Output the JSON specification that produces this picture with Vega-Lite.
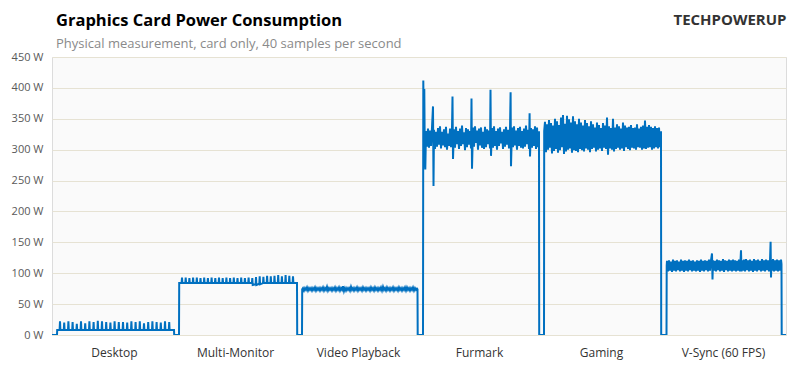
{
"$schema":"https://vega.github.io/schema/vega-lite/v6.json",
"width":734,"height":278,
"autosize":"none",
"padding":{"left":52,"top":57,"right":14,"bottom":33},
"background":"white",
"title":{"text":"Graphics Card Power Consumption","subtitle":"Physical measurement, card only, 40 samples per second","anchor":"start","frame":"group","dx":4,"offset":-39,"font":"Open Sans","fontSize":16.5,"fontWeight":"bold","color":"#000000","subtitleFont":"Open Sans","subtitleFontSize":13,"subtitleColor":"#8a8a8a","subtitlePadding":9},
"config":{"view":{"fill":"#fafafa","stroke":"#dcdcdc"}},
"data":{"values":[
{"t":0,"w":0},{"t":5,"w":0},{"t":5.2,"w":8},
{"t":7.6,"w":8},{"t":8,"w":22},{"t":8.4,"w":8},
{"t":11.8,"w":8},{"t":12.2,"w":20},{"t":12.6,"w":8},
{"t":16,"w":8},{"t":16.4,"w":22},{"t":16.8,"w":8},
{"t":20.2,"w":8},{"t":20.6,"w":21},{"t":21,"w":8},
{"t":24.4,"w":8},{"t":24.8,"w":18},{"t":25.2,"w":8},
{"t":28.6,"w":8},{"t":29,"w":22},{"t":29.4,"w":8},
{"t":32.8,"w":8},{"t":33.2,"w":19},{"t":33.6,"w":8},
{"t":37,"w":8},{"t":37.4,"w":22},{"t":37.8,"w":8},
{"t":41.2,"w":8},{"t":41.6,"w":21},{"t":42,"w":8},
{"t":45.4,"w":8},{"t":45.8,"w":23},{"t":46.2,"w":8},
{"t":49.6,"w":8},{"t":50,"w":22},{"t":50.4,"w":8},
{"t":53.8,"w":8},{"t":54.2,"w":21},{"t":54.6,"w":8},
{"t":58,"w":8},{"t":58.4,"w":20},{"t":58.8,"w":8},
{"t":62.2,"w":8},{"t":62.6,"w":22},{"t":63,"w":8},
{"t":66.4,"w":8},{"t":66.8,"w":21},{"t":67.2,"w":8},
{"t":70.6,"w":8},{"t":71,"w":21},{"t":71.4,"w":8},
{"t":74.8,"w":8},{"t":75.2,"w":20},{"t":75.6,"w":8},
{"t":79,"w":8},{"t":79.4,"w":22},{"t":79.8,"w":8},
{"t":83.2,"w":8},{"t":83.6,"w":21},{"t":84,"w":8},
{"t":87.4,"w":8},{"t":87.8,"w":22},{"t":88.2,"w":8},
{"t":91.6,"w":8},{"t":92,"w":19},{"t":92.4,"w":8},
{"t":95.8,"w":8},{"t":96.2,"w":21},{"t":96.6,"w":8},
{"t":100,"w":8},{"t":100.4,"w":22},{"t":100.8,"w":8},
{"t":104.2,"w":8},{"t":104.6,"w":21},{"t":105,"w":8},
{"t":108.4,"w":8},{"t":108.8,"w":20},{"t":109.2,"w":8},
{"t":112.6,"w":8},{"t":113,"w":22},{"t":113.4,"w":8},
{"t":116.8,"w":8},{"t":117.2,"w":21},{"t":117.6,"w":8},
{"t":122,"w":8},{"t":122.2,"w":0},{"t":127,"w":0},{"t":127.2,"w":84},
{"t":129.6,"w":84},{"t":130,"w":93},{"t":130.4,"w":84},
{"t":133.3,"w":84},{"t":133.7,"w":93},{"t":134.1,"w":84},
{"t":137,"w":84},{"t":137.4,"w":92},{"t":137.8,"w":84},
{"t":140.7,"w":84},{"t":141.1,"w":93},{"t":141.5,"w":84},
{"t":144.4,"w":84},{"t":144.8,"w":93},{"t":145.2,"w":84},
{"t":148.1,"w":84},{"t":148.5,"w":92},{"t":148.9,"w":84},
{"t":151.8,"w":84},{"t":152.2,"w":93},{"t":152.6,"w":84},
{"t":155.5,"w":84},{"t":155.9,"w":92},{"t":156.3,"w":84},
{"t":159.2,"w":84},{"t":159.6,"w":93},{"t":160,"w":84},
{"t":162.9,"w":84},{"t":163.3,"w":92},{"t":163.7,"w":84},
{"t":166.6,"w":84},{"t":167,"w":93},{"t":167.4,"w":84},
{"t":170.3,"w":84},{"t":170.7,"w":92},{"t":171.1,"w":84},
{"t":174,"w":84},{"t":174.4,"w":93},{"t":174.8,"w":84},
{"t":177.7,"w":84},{"t":178.1,"w":92},{"t":178.5,"w":84},
{"t":181.4,"w":84},{"t":181.8,"w":93},{"t":182.2,"w":84},
{"t":185.1,"w":84},{"t":185.5,"w":92},{"t":185.9,"w":84},
{"t":188.8,"w":84},{"t":189.2,"w":93},{"t":189.6,"w":84},
{"t":192.5,"w":84},{"t":192.9,"w":92},{"t":193.3,"w":84},
{"t":196.2,"w":84},{"t":196.6,"w":93},{"t":197,"w":84},
{"t":199.9,"w":84},{"t":200.3,"w":92},{"t":200.7,"w":81},
{"t":203.6,"w":82},{"t":204,"w":94},{"t":204.4,"w":81},
{"t":207.3,"w":83},{"t":207.7,"w":95},{"t":208.1,"w":82},
{"t":211,"w":84},{"t":211.4,"w":94},{"t":211.8,"w":84},
{"t":214.7,"w":84},{"t":215.1,"w":96},{"t":215.5,"w":84},
{"t":218.4,"w":84},{"t":218.8,"w":95},{"t":219.2,"w":84},
{"t":222.1,"w":84},{"t":222.5,"w":96},{"t":222.9,"w":84},
{"t":225.8,"w":84},{"t":226.2,"w":97},{"t":226.6,"w":84},
{"t":229.5,"w":84},{"t":229.9,"w":95},{"t":230.3,"w":84},
{"t":233.2,"w":84},{"t":233.6,"w":97},{"t":234,"w":84},
{"t":236.9,"w":84},{"t":237.3,"w":96},{"t":237.7,"w":84},
{"t":240.6,"w":84},{"t":241,"w":95},{"t":241.4,"w":84},
{"t":245,"w":84},{"t":245.2,"w":0},{"t":250,"w":0},{"t":250.2,"w":74},
{"t":251,"w":76},{"t":252,"w":72},{"t":253,"w":76},{"t":254,"w":73},{"t":255,"w":77},{"t":256,"w":72},{"t":257,"w":76},{"t":258,"w":73},{"t":259,"w":76},{"t":260,"w":72},
{"t":261,"w":76},{"t":262,"w":73},{"t":263,"w":77},{"t":264,"w":72},{"t":265,"w":76},{"t":266,"w":73},{"t":267,"w":76},{"t":268,"w":72},{"t":269,"w":76},{"t":270,"w":73},
{"t":271,"w":77},{"t":272,"w":72},{"t":273,"w":76},{"t":274,"w":73},{"t":275,"w":78},{"t":276,"w":72},{"t":277,"w":76},{"t":278,"w":73},{"t":279,"w":76},{"t":280,"w":72},
{"t":281,"w":76},{"t":282,"w":73},{"t":283,"w":77},{"t":284,"w":72},{"t":285,"w":76},{"t":286,"w":73},{"t":287,"w":77},{"t":288,"w":72},{"t":289,"w":76},{"t":290,"w":73},
{"t":291,"w":79},{"t":292,"w":71},{"t":293,"w":76},{"t":294,"w":72},{"t":295,"w":76},{"t":296,"w":73},{"t":297,"w":76},{"t":298,"w":72},{"t":299,"w":78},{"t":300,"w":73},
{"t":301,"w":76},{"t":302,"w":72},{"t":303,"w":76},{"t":304,"w":73},{"t":305,"w":77},{"t":306,"w":72},{"t":307,"w":76},{"t":308,"w":73},{"t":309,"w":76},{"t":310,"w":72},
{"t":311,"w":77},{"t":312,"w":73},{"t":313,"w":76},{"t":314,"w":72},{"t":315,"w":76},{"t":316,"w":73},{"t":317,"w":76},{"t":318,"w":72},{"t":319,"w":77},{"t":320,"w":73},
{"t":321,"w":76},{"t":322,"w":72},{"t":323,"w":77},{"t":324,"w":73},{"t":325,"w":76},{"t":326,"w":72},{"t":327,"w":76},{"t":328,"w":73},{"t":329,"w":77},{"t":330,"w":72},
{"t":331,"w":78},{"t":332,"w":73},{"t":333,"w":76},{"t":334,"w":72},{"t":335,"w":77},{"t":336,"w":73},{"t":337,"w":76},{"t":338,"w":72},{"t":339,"w":76},{"t":340,"w":73},
{"t":341,"w":77},{"t":342,"w":72},{"t":343,"w":76},{"t":344,"w":73},{"t":345,"w":76},{"t":346,"w":72},{"t":347,"w":77},{"t":348,"w":73},{"t":349,"w":76},{"t":350,"w":72},
{"t":351,"w":76},{"t":352,"w":73},{"t":353,"w":77},{"t":354,"w":72},{"t":355,"w":77},{"t":356,"w":73},{"t":357,"w":76},{"t":358,"w":72},{"t":359,"w":76},{"t":360,"w":73},
{"t":361,"w":77},{"t":362,"w":72},{"t":363,"w":76},{"t":364,"w":73},{"t":365,"w":75},{"t":365.5,"w":74},{"t":365.7,"w":0},{"t":371,"w":0},
{"t":371.3,"w":412},{"t":371.8,"w":335},{"t":372.3,"w":398},{"t":372.8,"w":290},{"t":373.3,"w":268},{"t":374,"w":330},{"t":375,"w":305},
{"t":376,"w":334},{"t":377,"w":303},{"t":378,"w":331},{"t":379,"w":306},{"t":380,"w":336},{"t":381,"w":370},{"t":381.5,"w":241},{"t":382,"w":332},{"t":383,"w":301},{"t":384,"w":329},
{"t":385,"w":305},{"t":386,"w":335},{"t":387,"w":308},{"t":388,"w":338},{"t":389,"w":302},{"t":390,"w":329},{"t":391,"w":307},{"t":392,"w":333},{"t":393,"w":304},{"t":394,"w":337},
{"t":395,"w":300},{"t":396,"w":326},{"t":397,"w":306},{"t":398,"w":334},{"t":399,"w":304},{"t":400,"w":336},{"t":400.5,"w":386},{"t":401,"w":285},{"t":402,"w":333},{"t":403,"w":303},
{"t":404,"w":337},{"t":405,"w":309},{"t":406,"w":330},{"t":407,"w":301},{"t":408,"w":334},{"t":409,"w":306},{"t":410,"w":339},{"t":411,"w":309},{"t":412,"w":328},{"t":413,"w":299},
{"t":414,"w":335},{"t":415,"w":304},{"t":416,"w":333},{"t":417,"w":308},{"t":418,"w":330},{"t":419,"w":302},{"t":419.5,"w":383},{"t":420,"w":269},{"t":421,"w":336},{"t":422,"w":305},
{"t":423,"w":338},{"t":424,"w":311},{"t":425,"w":331},{"t":426,"w":300},{"t":427,"w":334},{"t":428,"w":307},{"t":429,"w":336},{"t":430,"w":303},{"t":431,"w":329},{"t":432,"w":301},
{"t":433,"w":337},{"t":434,"w":304},{"t":435,"w":333},{"t":436,"w":309},{"t":437,"w":331},{"t":438,"w":302},{"t":438.5,"w":397},{"t":439,"w":290},{"t":440,"w":335},{"t":441,"w":303},
{"t":442,"w":338},{"t":443,"w":306},{"t":444,"w":330},{"t":445,"w":300},{"t":446,"w":334},{"t":447,"w":306},{"t":448,"w":336},{"t":449,"w":310},{"t":450,"w":329},{"t":451,"w":301},
{"t":452,"w":333},{"t":453,"w":305},{"t":454,"w":337},{"t":455,"w":308},{"t":456,"w":332},{"t":457,"w":302},{"t":458,"w":334},{"t":458.6,"w":393},{"t":459,"w":273},{"t":460,"w":336},
{"t":461,"w":304},{"t":462,"w":338},{"t":463,"w":307},{"t":464,"w":331},{"t":465,"w":300},{"t":466,"w":335},{"t":467,"w":306},{"t":468,"w":337},{"t":469,"w":303},{"t":470,"w":330},
{"t":471,"w":302},{"t":472,"w":334},{"t":473,"w":305},{"t":474,"w":339},{"t":475,"w":309},{"t":476,"w":332},{"t":477,"w":301},{"t":477.6,"w":359},{"t":478,"w":289},{"t":479,"w":335},
{"t":480,"w":303},{"t":481,"w":333},{"t":482,"w":306},{"t":483,"w":338},{"t":484,"w":301},{"t":485,"w":336},{"t":486,"w":304},{"t":487,"w":330},{"t":487.2,"w":0},{"t":492,"w":0},
{"t":492.2,"w":330},{"t":493,"w":345},{"t":494,"w":296},{"t":495,"w":341},{"t":496,"w":300},{"t":497,"w":348},{"t":498,"w":303},{"t":499,"w":343},{"t":500,"w":294},{"t":501,"w":339},
{"t":502,"w":298},{"t":503,"w":350},{"t":504,"w":301},{"t":505,"w":346},{"t":506,"w":295},{"t":507,"w":340},{"t":508,"w":299},{"t":509,"w":352},{"t":510,"w":304},{"t":511,"w":356},
{"t":512,"w":293},{"t":513,"w":342},{"t":514,"w":297},{"t":515,"w":355},{"t":516,"w":300},{"t":517,"w":349},{"t":518,"w":302},{"t":519,"w":344},{"t":520,"w":295},{"t":521,"w":354},
{"t":522,"w":299},{"t":523,"w":346},{"t":524,"w":298},{"t":525,"w":341},{"t":526,"w":296},{"t":527,"w":350},{"t":528,"w":301},{"t":529,"w":344},{"t":530,"w":299},{"t":531,"w":339},
{"t":532,"w":297},{"t":533,"w":348},{"t":534,"w":302},{"t":535,"w":343},{"t":536,"w":300},{"t":537,"w":338},{"t":538,"w":296},{"t":539,"w":346},{"t":540,"w":301},{"t":541,"w":341},
{"t":542,"w":303},{"t":543,"w":336},{"t":544,"w":297},{"t":545,"w":344},{"t":546,"w":300},{"t":547,"w":340},{"t":548,"w":302},{"t":549,"w":335},{"t":550,"w":298},{"t":551,"w":343},
{"t":552,"w":303},{"t":553,"w":339},{"t":554,"w":301},{"t":555,"w":352},{"t":556,"w":292},{"t":557,"w":338},{"t":558,"w":302},{"t":559,"w":335},{"t":560,"w":300},{"t":561,"w":350},
{"t":562,"w":297},{"t":563,"w":336},{"t":564,"w":301},{"t":565,"w":341},{"t":566,"w":303},{"t":567,"w":338},{"t":568,"w":300},{"t":569,"w":334},{"t":570,"w":302},{"t":571,"w":344},
{"t":572,"w":298},{"t":573,"w":339},{"t":574,"w":304},{"t":575,"w":336},{"t":576,"w":301},{"t":577,"w":337},{"t":578,"w":299},{"t":579,"w":340},{"t":580,"w":303},{"t":581,"w":335},
{"t":582,"w":302},{"t":583,"w":336},{"t":584,"w":300},{"t":585,"w":341},{"t":586,"w":304},{"t":587,"w":334},{"t":588,"w":303},{"t":589,"w":337},{"t":590,"w":300},{"t":591,"w":339},
{"t":592,"w":302},{"t":593,"w":347},{"t":594,"w":301},{"t":595,"w":337},{"t":596,"w":303},{"t":597,"w":340},{"t":598,"w":304},{"t":599,"w":337},{"t":600,"w":300},{"t":601,"w":335},
{"t":602,"w":302},{"t":603,"w":338},{"t":604,"w":304},{"t":605,"w":335},{"t":606,"w":302},{"t":607,"w":336},{"t":608,"w":304},{"t":609,"w":330},{"t":609.2,"w":0},{"t":614.5,"w":0},
{"t":614.7,"w":112},{"t":615,"w":120},{"t":616,"w":103},{"t":617,"w":121},{"t":618,"w":104},{"t":619,"w":119},{"t":620,"w":102},{"t":621,"w":122},{"t":622,"w":104},{"t":623,"w":120},
{"t":624,"w":103},{"t":625,"w":121},{"t":626,"w":105},{"t":627,"w":119},{"t":628,"w":103},{"t":629,"w":122},{"t":630,"w":104},{"t":631,"w":120},{"t":632,"w":102},{"t":633,"w":121},
{"t":634,"w":104},{"t":635,"w":120},{"t":636,"w":103},{"t":637,"w":122},{"t":638,"w":105},{"t":639,"w":120},{"t":640,"w":103},{"t":641,"w":121},{"t":642,"w":104},{"t":643,"w":119},
{"t":644,"w":103},{"t":645,"w":121},{"t":646,"w":104},{"t":647,"w":120},{"t":648,"w":102},{"t":649,"w":122},{"t":650,"w":104},{"t":651,"w":120},{"t":652,"w":103},{"t":653,"w":121},
{"t":654,"w":105},{"t":655,"w":120},{"t":656,"w":103},{"t":657,"w":122},{"t":658,"w":104},{"t":659,"w":121},{"t":660,"w":132},{"t":660.5,"w":90},{"t":661,"w":121},{"t":662,"w":104},
{"t":663,"w":120},{"t":664,"w":103},{"t":665,"w":122},{"t":666,"w":105},{"t":667,"w":121},{"t":668,"w":103},{"t":669,"w":120},{"t":670,"w":104},{"t":671,"w":123},{"t":672,"w":102},
{"t":673,"w":121},{"t":674,"w":105},{"t":675,"w":120},{"t":676,"w":103},{"t":677,"w":122},{"t":678,"w":104},{"t":679,"w":121},{"t":680,"w":103},{"t":681,"w":122},{"t":682,"w":104},
{"t":683,"w":121},{"t":684,"w":103},{"t":685,"w":120},{"t":686,"w":104},{"t":687,"w":122},{"t":688,"w":103},{"t":689,"w":137},{"t":689.5,"w":103},{"t":690,"w":121},{"t":691,"w":104},
{"t":692,"w":122},{"t":693,"w":103},{"t":694,"w":123},{"t":695,"w":105},{"t":696,"w":121},{"t":697,"w":103},{"t":698,"w":122},{"t":699,"w":104},{"t":700,"w":120},{"t":701,"w":102},
{"t":702,"w":123},{"t":703,"w":104},{"t":704,"w":121},{"t":705,"w":103},{"t":706,"w":122},{"t":707,"w":105},{"t":708,"w":120},{"t":709,"w":103},{"t":710,"w":123},{"t":711,"w":104},
{"t":712,"w":121},{"t":713,"w":103},{"t":714,"w":122},{"t":715,"w":105},{"t":716,"w":121},{"t":717,"w":103},{"t":718,"w":120},{"t":718.6,"w":151},{"t":719,"w":93},{"t":719.5,"w":121},
{"t":720,"w":104},{"t":721,"w":123},{"t":722,"w":103},{"t":723,"w":121},{"t":724,"w":104},{"t":725,"w":122},{"t":726,"w":103},{"t":727,"w":121},{"t":728,"w":104},{"t":729,"w":122},
{"t":729.5,"w":115},{"t":729.7,"w":0},{"t":734,"w":0}
]},
"mark":{"type":"line","color":"#0070c0","strokeWidth":2,"clip":true},
"encoding":{
"x":{"field":"t","type":"quantitative","scale":{"domain":[0,734],"nice":false,"zero":false},
"axis":{"orient":"bottom","values":[62,183,306,427,549,671],"labelExpr":"datum.value==62?'Desktop':datum.value==183?'Multi-Monitor':datum.value==306?'Video Playback':datum.value==427?'Furmark':datum.value==549?'Gaming':'V-Sync (60 FPS)'","grid":false,"ticks":false,"domain":false,"labelPadding":12,"labelFont":"Open Sans","labelFontSize":12,"labelColor":"#333333","labelFlush":false,"labelOverlap":false,"title":null}},
"y":{"field":"w","type":"quantitative","scale":{"domain":[0,450],"nice":false},
"axis":{"values":[0,50,100,150,200,250,300,350,400,450],"labelExpr":"datum.value+' W'","grid":true,"gridColor":"#e6e2d3","ticks":false,"domain":false,"labelPadding":9,"labelFont":"Open Sans","labelFontSize":11,"labelColor":"#595959",
"title":"TECHPOWERUP","titleAngle":0,"titleAlign":"right","titleBaseline":"alphabetic","titleX":734,"titleY":-33,"titleFont":"Open Sans","titleFontSize":15,"titleFontWeight":"bold","titleColor":"#333333"}},
"order":{"value":null}
}
}
